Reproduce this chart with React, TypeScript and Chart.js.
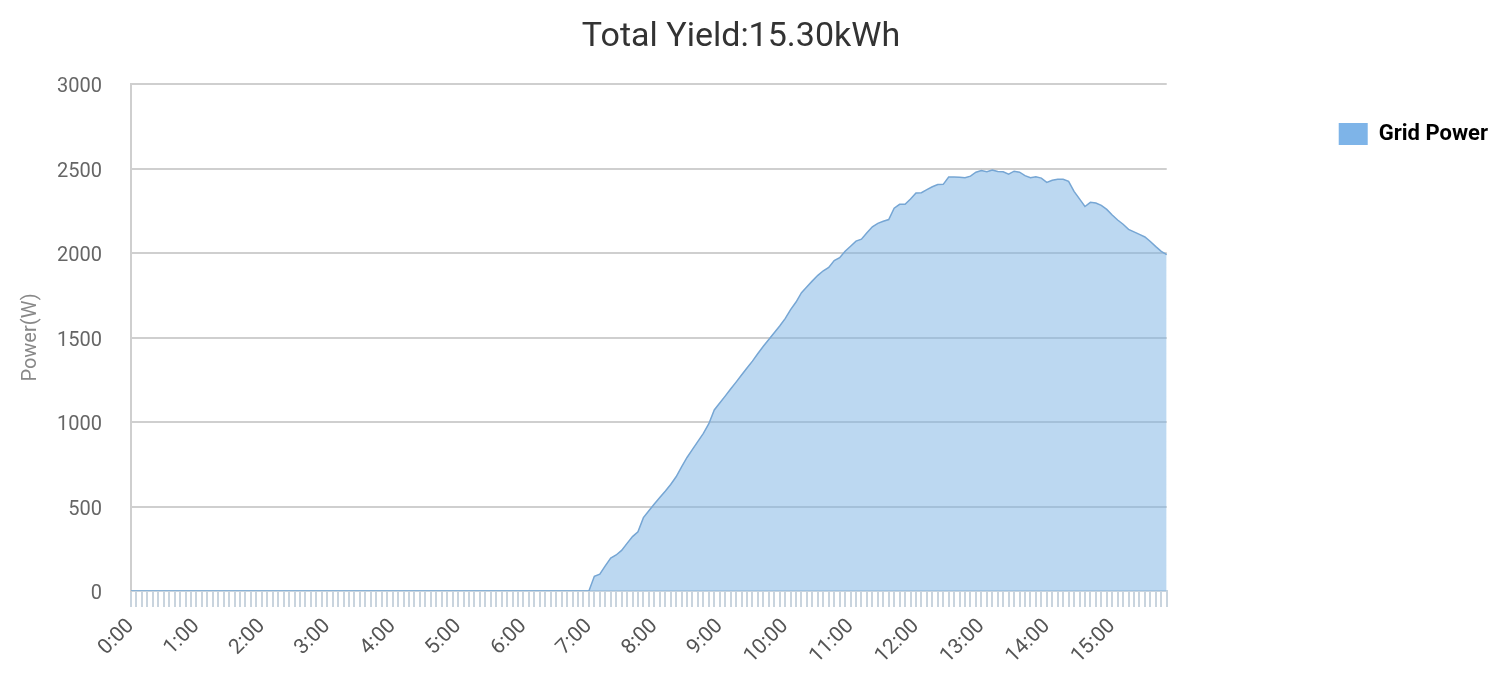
import React, { useEffect, useRef } from 'react';
import { Chart, registerables } from 'chart.js';

Chart.register(...registerables);

const TITLE = 'Total Yield:15.30kWh';
const SERIES_NAME = 'Grid Power';
const Y_TITLE = 'Power(W)';

// category axis: every 5 minutes from 0:00 to 15:50
const HOURS = [0, 1, 2, 3, 4, 5, 6, 7, 8, 9, 10, 11, 12, 13, 14, 15];
const MINUTES = ['00', '05', '10', '15', '20', '25', '30', '35', '40', '45', '50', '55'];
const LAST_LABEL = '15:50';
const categories: string[] = [];
outer: for (const h of HOURS) {
  for (const m of MINUTES) {
    const lbl = `${h}:${m}`;
    categories.push(lbl);
    if (lbl === LAST_LABEL) break outer;
  }
}

// Grid power (W), 0:00 - 6:55 (night)
const nightPower = [
  0, 0, 0, 0, 0, 0, 0, 0, 0, 0, 0, 0,
  0, 0, 0, 0, 0, 0, 0, 0, 0, 0, 0, 0,
  0, 0, 0, 0, 0, 0, 0, 0, 0, 0, 0, 0,
  0, 0, 0, 0, 0, 0, 0, 0, 0, 0, 0, 0,
  0, 0, 0, 0, 0, 0, 0, 0, 0, 0, 0, 0,
  0, 0, 0, 0, 0, 0, 0, 0, 0, 0, 0, 0,
  0, 0, 0, 0, 0, 0, 0, 0, 0, 0, 0, 0,
];
// 7:00 - 15:50
const dayPower = [
  0, 87, 100, 149, 195, 213, 240, 282, 322, 350, 434, 475,
  515, 553, 590, 630, 676, 735, 790, 838, 885, 933, 990, 1071,
  1112, 1153, 1195, 1236, 1278, 1320, 1360, 1405, 1448, 1488, 1528, 1568,
  1612, 1665, 1710, 1765, 1800, 1835, 1868, 1895, 1915, 1955, 1972, 2010,
  2040, 2070, 2082, 2120, 2155, 2175, 2188, 2198, 2265, 2288, 2288, 2320,
  2355, 2357, 2375, 2392, 2405, 2406, 2450, 2450, 2448, 2446, 2455, 2478,
  2488, 2481, 2491, 2482, 2481, 2467, 2484, 2478, 2458, 2445, 2451, 2443,
  2418, 2430, 2436, 2436, 2424, 2365, 2320, 2275, 2300, 2296, 2282, 2258,
  2225, 2195, 2170, 2140, 2125, 2110, 2095, 2068, 2038, 2010, 1990,
];
const gridPower = [...nightPower, ...dayPower];

const Y_MIN = 0;
const Y_MAX = 3000;
const Y_STEP = 500;

const LINE_COLOR = 'rgba(118,166,212,1)';
const FILL_COLOR = 'rgba(122,178,228,0.5)';
const LEGEND_COLOR = 'rgb(126,180,232)';
const FONT = 'Roboto';

export default function App() {
  const canvasRef = useRef<HTMLCanvasElement | null>(null);

  useEffect(() => {
    if (!canvasRef.current) return;
    Chart.defaults.font.family = FONT;
    const chart = new Chart(canvasRef.current, {
      type: 'line',
      data: {
        labels: categories,
        datasets: [
          {
            label: SERIES_NAME,
            data: gridPower,
            borderColor: LINE_COLOR,
            backgroundColor: FILL_COLOR,
            borderWidth: 1.5,
            fill: 'origin',
            pointRadius: 0,
            tension: 0,
          },
        ],
      },
      options: {
        animation: false,
        responsive: true,
        maintainAspectRatio: false,
        layout: { padding: { left: -16, right: 2, top: 0, bottom: 0 } },
        plugins: {
          title: {
            display: true,
            text: TITLE,
            color: '#333333',
            font: { size: 34, family: FONT, weight: 'normal' },
            padding: { top: 17.5, bottom: 25.7 },
          },
          legend: {
            position: 'right',
            align: 'start',
            maxWidth: 500,
            labels: {
              boxWidth: 29,
              boxHeight: 22,
              padding: 123,
              color: '#333333',
              font: { size: 22, weight: 'bold', family: FONT },
              generateLabels: () => [
                {
                  text: SERIES_NAME,
                  fillStyle: LEGEND_COLOR,
                  strokeStyle: LEGEND_COLOR,
                  lineWidth: 0,
                  hidden: false,
                  datasetIndex: 0,
                } as any,
              ],
            },
          },
          tooltip: { enabled: false },
        },
        scales: {
          x: {
            type: 'category',
            offset: false,
            grid: {
              drawOnChartArea: false,
              drawTicks: true,
              tickLength: 16,
              color: '#c9d4de',
              lineWidth: 2,
            },
            border: { display: true, color: '#c9d4de', width: 2 },
            ticks: {
              autoSkip: false,
              maxRotation: 45,
              minRotation: 45,
              padding: 7,
              color: '#555555',
              font: { size: 21, family: FONT },
              callback: (_v: any, i: number) => {
                const l = categories[i];
                return l.endsWith(':00') ? l : '';
              },
            },
            afterFit: (s: any) => {
              s.height = 104;
            },
          },
          y: {
            min: Y_MIN,
            max: Y_MAX,
            ticks: {
              stepSize: Y_STEP,
              padding: 29,
              labelOffset: 3,
              color: '#666666',
              font: { size: 20, family: FONT },
              callback: (v: any) => String(v),
            },
            grid: { color: '#cfcfcf', lineWidth: 2, drawTicks: false },
            border: { display: true, color: '#cfcfcf', width: 2 },
            title: {
              display: true,
              text: Y_TITLE,
              color: '#888888',
              font: { size: 20, family: FONT },
              padding: { top: 35, bottom: 0 },
            },
            afterFit: (s: any) => {
              s.width = 147;
            },
          },
          spacer: {
            position: 'right',
            display: true,
            grid: { display: false },
            ticks: { display: false },
            border: { display: false },
            afterFit: (s: any) => {
              s.width = 49;
            },
          },
        } as any,
      },
    });
    return () => chart.destroy();
  }, []);

  return (
    <div style={{ position: 'absolute', left: 0, top: 0, width: 1500, height: 695 }}>
      <canvas ref={canvasRef} />
    </div>
  );
}
